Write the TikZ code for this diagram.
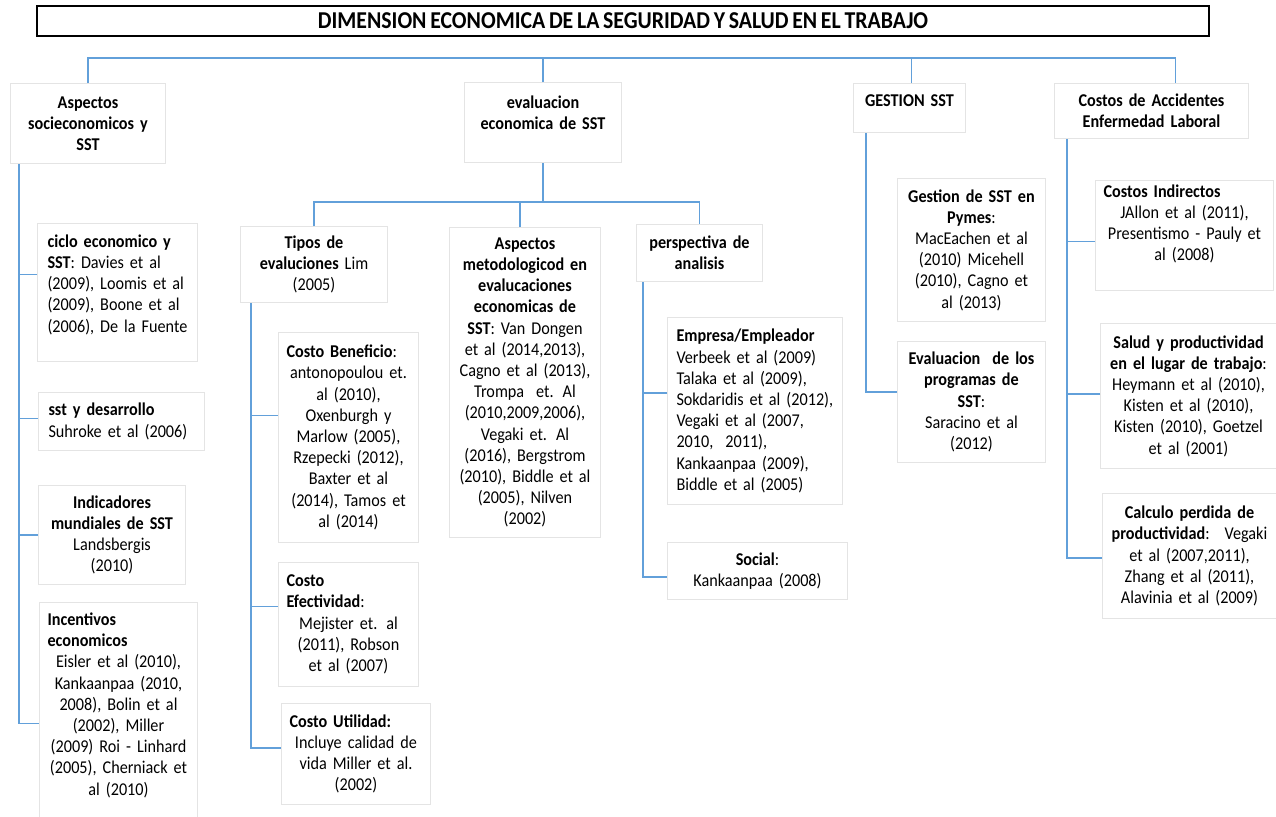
\documentclass[tikz,border=0pt]{standalone}
\usepackage{fontspec}
\setmainfont{Carlito}[FakeStretch=0.9, WordSpace=0.75]
\usetikzlibrary{shadows}
\definecolor{linkblue}{RGB}{98,160,218}
\definecolor{boxgray}{RGB}{228,228,228}

\begin{document}
\begin{tikzpicture}[x=0.5pt,y=-0.5pt]
    \tikzstyle{every node} = [font=\fontsize{9}{10.6}\selectfont]
    \tikzstyle{block} = [draw=boxgray, line width=0.5pt, fill=white, rectangle, anchor=north west, inner xsep=4pt, inner ysep=2pt]
    \tikzstyle{link} = [draw=linkblue, line width=0.7pt]
    \useasboundingbox (0,0) rectangle (1276,816);

    % title
    \node[draw, fill=white, line width=1pt, drop shadow={shadow xshift=0.7pt, shadow yshift=-0.7pt, opacity=0.45, fill=gray}, anchor=north west, minimum width=586pt, minimum height=15pt, inner sep=0pt, font=\fontsize{12.1}{13}\selectfont\bfseries] (title) at (36,5) {DIMENSION ECONOMICA DE LA SEGURIDAD Y SALUD EN EL TRABAJO};

    % first level
    \node[block, text width=69.5pt, minimum height=40pt, align=center] (aspectos) at (10,83) {\textbf{Aspectos}\\\textbf{socieconomicos y}\\\textbf{SST}};
    \node[block, text width=70.5pt, minimum height=40pt, align=center] (evaluacion) at (464,82) {\textbf{evaluacion}\\\textbf{economica de SST}\\[-1pt]\mbox{}};
    \node[block, text width=48pt, minimum height=24.5pt, align=center] (gestion) at (853,83) {\textbf{GESTION SST}\\[-3pt]\mbox{}};
    \node[block, text width=89pt, minimum height=27.5pt, align=center] (costos) at (1054,83) {\textbf{Costos de Accidentes}\\\textbf{Enfermedad Laboral}};

    % aspectos socieconomicos
    \node[block, text width=70pt, minimum height=69pt, align=left, inner xsep=5pt] (ciclo) at (37,223) {\textbf{ciclo economico y}\\\textbf{SST}: Davies et al\\(2009), Loomis et al\\(2009), Boone et al\\(2006), De la Fuente\\[-1.5pt]\mbox{}};
    \node[block, text width=73pt, minimum height=29pt, align=left, inner xsep=5pt] (sstdes) at (38,392) {\textbf{sst y desarrollo}\\Suhroke et al (2006)};
    \node[block, text width=65.5pt, minimum height=49.5pt, align=center] (indicadores) at (38,485) {\textbf{Indicadores}\\\textbf{mundiales de SST}\\Landsbergis\\(2010)};
    \node[block, text width=71pt, minimum height=115pt, align=center] (incentivos) at (39,602) {\makebox[\hsize][l]{\textbf{Incentivos}}\\\makebox[\hsize][l]{\textbf{economicos}}\\Eisler et al (2010),\\Kankaanpaa (2010,\\2008), Bolin et al\\(2002), Miller\\(2009) Roi - Linhard\\(2005), Cherniack et\\al (2010)\\[3pt]\mbox{}};

    % evaluacion economica
    \node[block, text width=65.5pt, minimum height=38pt, align=center] (tipos) at (240,226) {\textbf{Tipos de}\\\textbf{evaluciones} Lim\\(2005)};
    \node[block, text width=67.5pt, minimum height=155pt, align=center] (metodo) at (449,227) {\textbf{Aspectos}\\\textbf{metodologicod en}\\\textbf{evalucaciones}\\\textbf{economicas de}\\\textbf{SST}: Van Dongen\\et al (2014,2013),\\Cagno et al (2013),\\Trompa~ et. Al\\(2010,2009,2006),\\Vegaki et. Al\\(2016), Bergstrom\\(2010), Biddle et al\\(2005), Nilven\\(2002)};
    \node[block, text width=55pt, minimum height=28.5pt, align=center] (perspectiva) at (636,224) {\textbf{perspectiva de}\\\textbf{analisis}};

    \node[block, text width=62pt, minimum height=105pt, align=center] (costoBen) at (278,332) {\makebox[\hsize][l]{\textbf{Costo Beneficio}:}\\antonopoulou et.\\al (2010),\\Oxenburgh y\\Marlow (2005),\\Rzepecki (2012),\\Baxter et al\\(2014), Tamos et\\al (2014)};
    \node[block, text width=62pt, minimum height=62pt, align=center] (costoEfe) at (278,562) {\makebox[\hsize][l]{\textbf{Costo}}\\\makebox[\hsize][l]{\textbf{Efectividad}:}\\Mejister et. al\\(2011), Robson\\et al (2007)};
    \node[block, text width=66.5pt, minimum height=50.5pt, align=center] (costoUti) at (281,703) {\makebox[\hsize][l]{\textbf{Costo Utilidad:}}\\Incluye calidad de\\vida Miller et al.\\(2002)};

    \node[block, text width=78.5pt, minimum height=93.5pt, align=left, inner xsep=4.5pt] (empresa) at (667,317) {\textbf{Empresa/Empleador}\\Verbeek et al (2009)\\Talaka et al (2009),\\Sokdaridis et al (2012),\\Vegaki et al (2007,\\2010,~ 2011),\\Kankaanpaa (2009),\\Biddle et al (2005)};
    \node[block, text width=82pt, minimum height=28.5pt, align=center] (social) at (667,542) {\textbf{Social}:\\Kankaanpaa (2008)};

    % gestion
    \node[block, text width=66pt, minimum height=71.5pt, align=center] (pymes) at (897,178) {\textbf{Gestion de SST en}\\\textbf{Pymes}:\\MacEachen et al\\(2010) Micehell\\(2010), Cagno et\\al (2013)};
    \node[block, text width=66pt, minimum height=60.5pt, align=center] (programas) at (897,341) {\textbf{Evaluacion~ de los}\\\textbf{programas de}\\\textbf{SST}:\\Saracino et al\\(2012)};

    % costos
    \node[block, text width=81pt, minimum height=50.5pt, align=center] (indirectos) at (1095,180) {\makebox[\hsize][l]{\textbf{Costos Indirectos}}\\JAllon et al (2011),\\Presentismo - Pauly et\\al (2008)\\[2.5pt]\mbox{}};
    \node[block, text width=80pt, minimum height=72.5pt, align=center] (salud) at (1100,323) {\textbf{Salud y productividad}\\\textbf{en el lugar de trabajo}:\\Heymann et al (2010),\\Kisten et al (2010),\\Kisten (2010), Goetzel\\et al (2001)};
    \node[block, text width=79pt, minimum height=62.5pt, align=center] (calculo) at (1102,493) {\textbf{Calculo perdida de}\\\textbf{productividad}:~ Vegaki\\et al (2007,2011),\\Zhang et al (2011),\\Alavinia et al (2009)};

    % Connections
    \coordinate (bus) at (0,58);
    \coordinate (subbus) at (0,202);
    \draw[link] (aspectos.north) -- (aspectos.north |- bus) -- ([xshift=12pt]costos.north |- bus) -- ([xshift=12pt]costos.north);
    \draw[link] (evaluacion.north) -- (evaluacion.north |- bus);
    \draw[link] ([xshift=1pt]gestion.north) -- ([xshift=1pt]gestion.north |- bus);

    \draw[link] (evaluacion.south) -- (evaluacion.south |- subbus);
    \draw[link] (tipos.north) -- (tipos.north |- subbus) -- (perspectiva.north |- subbus) -- (perspectiva.north);
    \draw[link] ([xshift=-2.5pt]metodo.north) -- ([xshift=-2.5pt]metodo.north |- subbus);

    \coordinate (spineA) at ([xshift=4.5pt]aspectos.south west);
    \draw[link] (spineA) |- ([yshift=-3pt]incentivos.west);
    \foreach \n/\dy in {ciclo/9pt, sstdes/1.5pt, indicadores/0pt}
        \draw[link] ([yshift=\dy]\n.west) -- ([yshift=\dy]\n.west -| spineA);

    \coordinate (spineT) at ([xshift=5.5pt]tipos.south west);
    \draw[link] (spineT) |- ([yshift=3pt]costoUti.west);
    \foreach \n/\dy in {costoBen/11pt, costoEfe/9pt}
        \draw[link] ([yshift=\dy]\n.west) -- ([yshift=\dy]\n.west -| spineT);

    \coordinate (spineP) at ([xshift=3.5pt]perspectiva.south west);
    \draw[link] (spineP) |- ([yshift=-3pt]social.west);
    \draw[link] ([yshift=9pt]empresa.west) -- ([yshift=9pt]empresa.west -| spineP);

    \coordinate (spineG) at ([xshift=6.5pt]gestion.south west);
    \draw[link] (spineG) |- ([yshift=5pt]programas.west);

    \coordinate (spineC) at ([xshift=6.5pt]costos.south west);
    \draw[link] (spineC) |- ([yshift=-1pt]calculo.west);
    \foreach \n/\dy in {indirectos/-3pt, salud/1pt}
        \draw[link] ([yshift=\dy]\n.west) -- ([yshift=\dy]\n.west -| spineC);

\end{tikzpicture}
\end{document}
